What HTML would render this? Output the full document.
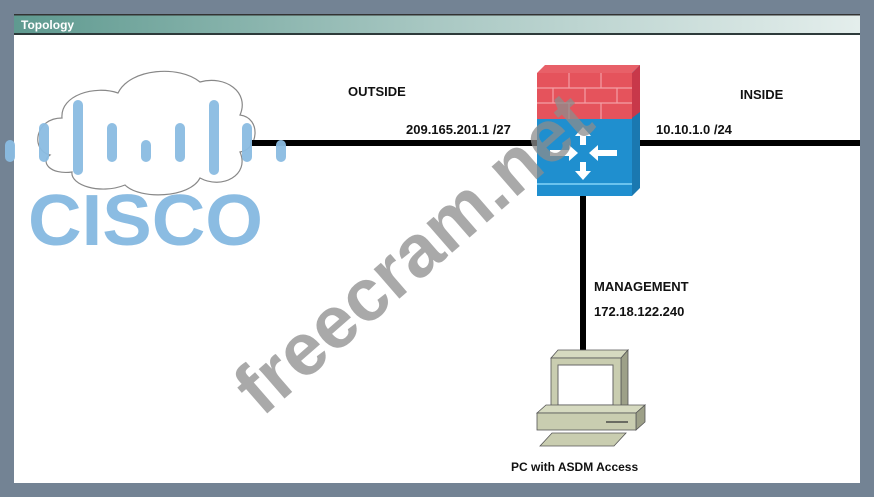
<!DOCTYPE html>
<html><head><meta charset="utf-8"><style>
html,body{margin:0;padding:0;}
body{width:874px;height:497px;background:#738394;position:relative;overflow:hidden;font-family:"Liberation Sans",sans-serif;}
</style></head><body>
<svg width="874" height="497" viewBox="0 0 874 497" xmlns="http://www.w3.org/2000/svg" style="position:absolute;left:0;top:0">
<defs>
<linearGradient id="tb" x1="0" x2="1" y1="0" y2="0">
<stop offset="0" stop-color="#5f9a90"/><stop offset="0.5" stop-color="#a9c8c3"/><stop offset="1" stop-color="#e4eeec"/>
</linearGradient>
</defs>
<rect x="0" y="0" width="874" height="497" fill="#738394"/>
<rect x="14" y="14" width="846" height="469" fill="#ffffff"/>
<rect x="14" y="14" width="846" height="19" fill="url(#tb)"/>
<rect x="14" y="14" width="846" height="1.5" fill="#333"/>
<rect x="14" y="33" width="846" height="2" fill="#2d3a3a"/>
<text x="21" y="29" font-size="12" font-weight="bold" fill="#fff">Topology</text>

<!-- cloud -->
<path d="M50,155 C30,150 35,118 62,118 C60,95 95,85 118,93 C130,68 180,65 200,82 C225,75 250,92 240,115 C262,118 258,150 240,152 C250,175 222,190 200,178 C190,198 140,200 125,185 C100,195 70,185 72,172 C50,175 40,162 50,155 Z" fill="#fff" stroke="#888" stroke-width="1.2"/>

<!-- connectors -->
<rect x="250" y="140" width="288" height="6" fill="#000"/>
<rect x="636" y="140" width="224" height="6" fill="#000"/>
<rect x="580" y="194" width="6" height="158" fill="#000"/>

<!-- cisco bars -->
<g stroke="#8bbce2" stroke-width="10" stroke-linecap="round" opacity="0.95">
<line x1="10" y1="145" x2="10" y2="157"/>
<line x1="44" y1="128" x2="44" y2="157"/>
<line x1="78" y1="105" x2="78" y2="170"/>
<line x1="112" y1="128" x2="112" y2="157"/>
<line x1="146" y1="145" x2="146" y2="157"/>
<line x1="180" y1="128" x2="180" y2="157"/>
<line x1="214" y1="105" x2="214" y2="170"/>
<line x1="247" y1="128" x2="247" y2="157"/>
<line x1="281" y1="145" x2="281" y2="157"/>
</g>
<text x="28" y="245" font-size="72" font-weight="bold" fill="#8bbce2" textLength="235" lengthAdjust="spacingAndGlyphs">CISCO</text>

<!-- firewall -->
<polygon points="537,73 545,65 640,65 632,73" fill="#e86068"/>
<polygon points="632,73 640,65 640,188 632,196" fill="#1a78b0"/>
<polygon points="632,73 640,65 640,112 632,118" fill="#c8384a"/>
<rect x="537" y="73" width="95" height="46" fill="#e5535c"/>
<g stroke="#f3a0a5" stroke-width="1.2">
<line x1="537" y1="88" x2="632" y2="88"/><line x1="537" y1="103" x2="632" y2="103"/>
<line x1="569" y1="73" x2="569" y2="88"/><line x1="601" y1="73" x2="601" y2="88"/>
<line x1="553" y1="88" x2="553" y2="103"/><line x1="585" y1="88" x2="585" y2="103"/><line x1="617" y1="88" x2="617" y2="103"/>
<line x1="569" y1="103" x2="569" y2="119"/><line x1="601" y1="103" x2="601" y2="119"/>
</g>
<rect x="537" y="119" width="95" height="77" fill="#1f8fcf"/>
<rect x="537" y="183" width="95" height="2" fill="#6ac3ee"/>
<!-- arrows -->
<g fill="#fff">
<polygon points="583,127 575,136 580,136 580,145 586,145 586,136 591,136"/>
<polygon points="583,180 575,171 580,171 580,162 586,162 586,171 591,171"/>
<polygon points="578,153 569,145 569,150 550,150 550,156 569,156 569,161"/>
<polygon points="589,153 598,145 598,150 617,150 617,156 598,156 598,161"/>
</g>

<!-- labels -->
<g font-weight="bold" font-size="13" fill="#111">
<text x="348" y="96">OUTSIDE</text>
<text x="740" y="99">INSIDE</text>
<text x="406" y="134">209.165.201.1 /27</text>
<text x="656" y="134">10.10.1.0 /24</text>
<text x="594" y="291">MANAGEMENT</text>
<text x="594" y="316">172.18.122.240</text>
<text x="511" y="471" font-size="12">PC with ASDM Access</text>
</g>

<!-- PC -->
<polygon points="551,358 558,350 628,350 621,358" fill="#d6dac0" stroke="#555" stroke-width="0.8"/>
<polygon points="621,358 628,350 628,405 621,412" fill="#9da088" stroke="#555" stroke-width="0.8"/>
<rect x="551" y="358" width="70" height="55" fill="#c9cdb0" stroke="#555" stroke-width="0.8"/>
<rect x="558" y="365" width="55" height="40" fill="#fff" stroke="#666" stroke-width="1"/>
<polygon points="537,413 546,405 645,405 636,413" fill="#d6dac0" stroke="#555" stroke-width="0.8"/>
<polygon points="636,413 645,405 645,422 636,430" fill="#9da088" stroke="#555" stroke-width="0.8"/>
<rect x="537" y="413" width="99" height="17" fill="#c9cdb0" stroke="#555" stroke-width="0.8"/>
<line x1="606" y1="422" x2="628" y2="422" stroke="#333" stroke-width="1.2"/>
<polygon points="540,446 552,433 626,433 614,446" fill="#c9cdb0" stroke="#555" stroke-width="0.8"/>

<!-- watermark -->
<text x="0" y="0" font-size="74" font-weight="bold" fill="#8c8c8c" fill-opacity="0.75" transform="translate(262,418) rotate(-41)">freecram.net</text>
</svg>
</body></html>
